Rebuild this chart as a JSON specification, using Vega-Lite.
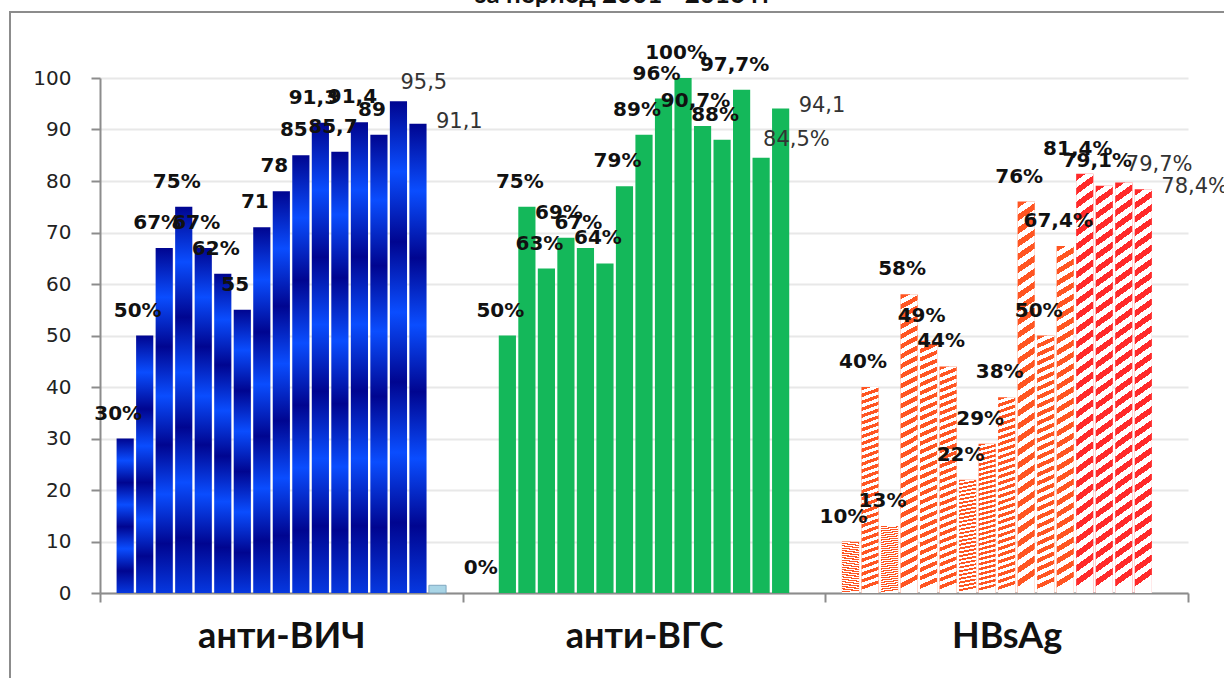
{
  "$schema": "https://vega.github.io/schema/vega-lite/v6.json",
  "width": 1268,
  "height": 700,
  "autosize": {"type": "none"},
  "padding": {"left": 10, "top": 12, "right": -54, "bottom": -34},
  "background": "white",
  "title": {"text": "за период 2001 - 2016 гг", "font": "Lato", "fontSize": 26, "fontWeight": "bold", "color": "#111111", "offset": 4, "dx": -20},
  "config": {"view": {"stroke": "#8C8C8C", "strokeWidth": 2}},
  "data": {"values": [
    {"g": "анти-ВИЧ", "n": 1, "v": 30, "label": "30%"},
    {"g": "анти-ВИЧ", "n": 2, "v": 50, "label": "50%"},
    {"g": "анти-ВИЧ", "n": 3, "v": 67, "label": "67%"},
    {"g": "анти-ВИЧ", "n": 4, "v": 75, "label": "75%"},
    {"g": "анти-ВИЧ", "n": 5, "v": 67, "label": "67%"},
    {"g": "анти-ВИЧ", "n": 6, "v": 62, "label": "62%"},
    {"g": "анти-ВИЧ", "n": 7, "v": 55, "label": "55"},
    {"g": "анти-ВИЧ", "n": 8, "v": 71, "label": "71"},
    {"g": "анти-ВИЧ", "n": 9, "v": 78, "label": "78"},
    {"g": "анти-ВИЧ", "n": 10, "v": 85, "label": "85"},
    {"g": "анти-ВИЧ", "n": 11, "v": 91.3, "label": "91,3"},
    {"g": "анти-ВИЧ", "n": 12, "v": 85.7, "label": "85,7"},
    {"g": "анти-ВИЧ", "n": 13, "v": 91.4, "label": "91,4"},
    {"g": "анти-ВИЧ", "n": 14, "v": 89, "label": "89"},
    {"g": "анти-ВИЧ", "n": 15, "v": 95.5, "label": "95,5"},
    {"g": "анти-ВИЧ", "n": 16, "v": 91.1, "label": "91,1"},
    {"g": "анти-ВИЧ", "n": 17, "v": 1.5, "label": ""},
    {"g": "анти-ВГС", "n": 1, "v": 0, "label": "0%"},
    {"g": "анти-ВГС", "n": 2, "v": 50, "label": "50%"},
    {"g": "анти-ВГС", "n": 3, "v": 75, "label": "75%"},
    {"g": "анти-ВГС", "n": 4, "v": 63, "label": "63%"},
    {"g": "анти-ВГС", "n": 5, "v": 69, "label": "69%"},
    {"g": "анти-ВГС", "n": 6, "v": 67, "label": "67%"},
    {"g": "анти-ВГС", "n": 7, "v": 64, "label": "64%"},
    {"g": "анти-ВГС", "n": 8, "v": 79, "label": "79%"},
    {"g": "анти-ВГС", "n": 9, "v": 89, "label": "89%"},
    {"g": "анти-ВГС", "n": 10, "v": 96, "label": "96%"},
    {"g": "анти-ВГС", "n": 11, "v": 100, "label": "100%"},
    {"g": "анти-ВГС", "n": 12, "v": 90.7, "label": "90,7%"},
    {"g": "анти-ВГС", "n": 13, "v": 88, "label": "88%"},
    {"g": "анти-ВГС", "n": 14, "v": 97.7, "label": "97,7%"},
    {"g": "анти-ВГС", "n": 15, "v": 84.5, "label": "84,5%"},
    {"g": "анти-ВГС", "n": 16, "v": 94.1, "label": "94,1"},
    {"g": "HBsAg", "n": 1, "v": 10, "label": "10%"},
    {"g": "HBsAg", "n": 2, "v": 40, "label": "40%"},
    {"g": "HBsAg", "n": 3, "v": 13, "label": "13%"},
    {"g": "HBsAg", "n": 4, "v": 58, "label": "58%"},
    {"g": "HBsAg", "n": 5, "v": 49, "label": "49%"},
    {"g": "HBsAg", "n": 6, "v": 44, "label": "44%"},
    {"g": "HBsAg", "n": 7, "v": 22, "label": "22%"},
    {"g": "HBsAg", "n": 8, "v": 29, "label": "29%"},
    {"g": "HBsAg", "n": 9, "v": 38, "label": "38%"},
    {"g": "HBsAg", "n": 10, "v": 76, "label": "76%"},
    {"g": "HBsAg", "n": 11, "v": 50, "label": "50%"},
    {"g": "HBsAg", "n": 12, "v": 67.4, "label": "67,4%"},
    {"g": "HBsAg", "n": 13, "v": 81.4, "label": "81,4%"},
    {"g": "HBsAg", "n": 14, "v": 79.1, "label": "79,1%"},
    {"g": "HBsAg", "n": 15, "v": 79.7, "label": "79,7%"},
    {"g": "HBsAg", "n": 16, "v": 78.4, "label": "78,4%"}
  ]},
  "encoding": {
    "x": {
      "field": "g", "type": "nominal", "title": null,
      "sort": ["анти-ВИЧ", "анти-ВГС", "HBsAg"],
      "scale": {"range": [90, 1178], "paddingInner": 0, "paddingOuter": 0},
      "axis": {"orient": "bottom", "offset": -119, "domainColor": "#8C8C8C", "domainWidth": 2, "tickColor": "#8C8C8C", "tickWidth": 2, "tickSize": 9, "tickBand": "extent", "labelFont": "Lato", "labelFontSize": 36, "labelFontWeight": "bold", "labelColor": "#111111", "labelPadding": 17, "labelAngle": 0, "grid": false}
    },
    "xOffset": {"field": "n", "type": "ordinal", "scale": {"domain": [1,2,3,4,5,6,7,8,9,10,11,12,13,14,15,16,17], "paddingInner": 0.12, "paddingOuter": 0.85}},
    "y": {
      "field": "v", "type": "quantitative", "title": null,
      "scale": {"domain": [0, 100], "range": [581, 66], "nice": false, "zero": true},
      "axis": {"offset": -90, "values": [0,10,20,30,40,50,60,70,80,90,100], "domainColor": "#8C8C8C", "domainWidth": 2, "tickColor": "#8C8C8C", "tickWidth": 2, "tickSize": 9, "labelFont": "DejaVu Sans", "labelFontSize": 20, "labelColor": "#222222", "labelPadding": 20, "grid": true, "gridColor": "#E8E8E8", "gridWidth": 2}
    }
  },
  "layer": [
    {
      "transform": [{"filter": "datum.g === 'анти-ВИЧ' && datum.n <= 16"}],
      "mark": {"type": "bar", "color": {"gradient": "linear", "x1": 0, "y1": 0, "x2": 0, "y2": 1, "stops": [
        {"offset": 0, "color": "#000590"},
        {"offset": 0.143, "color": "#0A4DFF"},
        {"offset": 0.286, "color": "#000590"},
        {"offset": 0.429, "color": "#0A4DFF"},
        {"offset": 0.571, "color": "#000590"},
        {"offset": 0.714, "color": "#0A4DFF"},
        {"offset": 0.857, "color": "#000590"},
        {"offset": 1, "color": "#0638E0"}
      ]}}
    },
    {
      "transform": [{"filter": "datum.g === 'анти-ВИЧ' && datum.n == 17"}],
      "mark": {"type": "bar", "color": "#A9D5E6", "stroke": "#7FA7C0", "strokeWidth": 1}
    },
    {
      "transform": [{"filter": "datum.g === 'анти-ВГС'"}],
      "mark": {"type": "bar", "color": "#14B85A"}
    },
    {
      "transform": [{"filter": "datum.g === 'HBsAg' && datum.n <= 12"}],
      "mark": {"type": "bar", "color": "#FF5522"}
    },
    {
      "transform": [{"filter": "datum.g === 'HBsAg' && datum.n >= 13"}],
      "mark": {"type": "bar", "color": "#FF2A2A"}
    },
    {
      "transform": [{"filter": "datum.g === 'HBsAg'"}],
      "mark": {"type": "bar", "color": {"gradient": "linear", "x1": 0, "y1": 0, "x2": 0.03, "y2": 1, "stops": [
        {"offset": 0, "color": "rgba(255,255,255,0)"}, {"offset": 0.0167, "color": "rgba(255,255,255,0)"}, {"offset": 0.0167, "color": "#ffffff"}, {"offset": 0.0333, "color": "#ffffff"},
        {"offset": 0.0333, "color": "rgba(255,255,255,0)"}, {"offset": 0.05, "color": "rgba(255,255,255,0)"}, {"offset": 0.05, "color": "#ffffff"}, {"offset": 0.0667, "color": "#ffffff"},
        {"offset": 0.0667, "color": "rgba(255,255,255,0)"}, {"offset": 0.0833, "color": "rgba(255,255,255,0)"}, {"offset": 0.0833, "color": "#ffffff"}, {"offset": 0.1, "color": "#ffffff"},
        {"offset": 0.1, "color": "rgba(255,255,255,0)"}, {"offset": 0.1167, "color": "rgba(255,255,255,0)"}, {"offset": 0.1167, "color": "#ffffff"}, {"offset": 0.1333, "color": "#ffffff"},
        {"offset": 0.1333, "color": "rgba(255,255,255,0)"}, {"offset": 0.15, "color": "rgba(255,255,255,0)"}, {"offset": 0.15, "color": "#ffffff"}, {"offset": 0.1667, "color": "#ffffff"},
        {"offset": 0.1667, "color": "rgba(255,255,255,0)"}, {"offset": 0.1833, "color": "rgba(255,255,255,0)"}, {"offset": 0.1833, "color": "#ffffff"}, {"offset": 0.2, "color": "#ffffff"},
        {"offset": 0.2, "color": "rgba(255,255,255,0)"}, {"offset": 0.2167, "color": "rgba(255,255,255,0)"}, {"offset": 0.2167, "color": "#ffffff"}, {"offset": 0.2333, "color": "#ffffff"},
        {"offset": 0.2333, "color": "rgba(255,255,255,0)"}, {"offset": 0.25, "color": "rgba(255,255,255,0)"}, {"offset": 0.25, "color": "#ffffff"}, {"offset": 0.2667, "color": "#ffffff"},
        {"offset": 0.2667, "color": "rgba(255,255,255,0)"}, {"offset": 0.2833, "color": "rgba(255,255,255,0)"}, {"offset": 0.2833, "color": "#ffffff"}, {"offset": 0.3, "color": "#ffffff"},
        {"offset": 0.3, "color": "rgba(255,255,255,0)"}, {"offset": 0.3167, "color": "rgba(255,255,255,0)"}, {"offset": 0.3167, "color": "#ffffff"}, {"offset": 0.3333, "color": "#ffffff"},
        {"offset": 0.3333, "color": "rgba(255,255,255,0)"}, {"offset": 0.35, "color": "rgba(255,255,255,0)"}, {"offset": 0.35, "color": "#ffffff"}, {"offset": 0.3667, "color": "#ffffff"},
        {"offset": 0.3667, "color": "rgba(255,255,255,0)"}, {"offset": 0.3833, "color": "rgba(255,255,255,0)"}, {"offset": 0.3833, "color": "#ffffff"}, {"offset": 0.4, "color": "#ffffff"},
        {"offset": 0.4, "color": "rgba(255,255,255,0)"}, {"offset": 0.4167, "color": "rgba(255,255,255,0)"}, {"offset": 0.4167, "color": "#ffffff"}, {"offset": 0.4333, "color": "#ffffff"},
        {"offset": 0.4333, "color": "rgba(255,255,255,0)"}, {"offset": 0.45, "color": "rgba(255,255,255,0)"}, {"offset": 0.45, "color": "#ffffff"}, {"offset": 0.4667, "color": "#ffffff"},
        {"offset": 0.4667, "color": "rgba(255,255,255,0)"}, {"offset": 0.4833, "color": "rgba(255,255,255,0)"}, {"offset": 0.4833, "color": "#ffffff"}, {"offset": 0.5, "color": "#ffffff"},
        {"offset": 0.5, "color": "rgba(255,255,255,0)"}, {"offset": 0.5167, "color": "rgba(255,255,255,0)"}, {"offset": 0.5167, "color": "#ffffff"}, {"offset": 0.5333, "color": "#ffffff"},
        {"offset": 0.5333, "color": "rgba(255,255,255,0)"}, {"offset": 0.55, "color": "rgba(255,255,255,0)"}, {"offset": 0.55, "color": "#ffffff"}, {"offset": 0.5667, "color": "#ffffff"},
        {"offset": 0.5667, "color": "rgba(255,255,255,0)"}, {"offset": 0.5833, "color": "rgba(255,255,255,0)"}, {"offset": 0.5833, "color": "#ffffff"}, {"offset": 0.6, "color": "#ffffff"},
        {"offset": 0.6, "color": "rgba(255,255,255,0)"}, {"offset": 0.6167, "color": "rgba(255,255,255,0)"}, {"offset": 0.6167, "color": "#ffffff"}, {"offset": 0.6333, "color": "#ffffff"},
        {"offset": 0.6333, "color": "rgba(255,255,255,0)"}, {"offset": 0.65, "color": "rgba(255,255,255,0)"}, {"offset": 0.65, "color": "#ffffff"}, {"offset": 0.6667, "color": "#ffffff"},
        {"offset": 0.6667, "color": "rgba(255,255,255,0)"}, {"offset": 0.6833, "color": "rgba(255,255,255,0)"}, {"offset": 0.6833, "color": "#ffffff"}, {"offset": 0.7, "color": "#ffffff"},
        {"offset": 0.7, "color": "rgba(255,255,255,0)"}, {"offset": 0.7167, "color": "rgba(255,255,255,0)"}, {"offset": 0.7167, "color": "#ffffff"}, {"offset": 0.7333, "color": "#ffffff"},
        {"offset": 0.7333, "color": "rgba(255,255,255,0)"}, {"offset": 0.75, "color": "rgba(255,255,255,0)"}, {"offset": 0.75, "color": "#ffffff"}, {"offset": 0.7667, "color": "#ffffff"},
        {"offset": 0.7667, "color": "rgba(255,255,255,0)"}, {"offset": 0.7833, "color": "rgba(255,255,255,0)"}, {"offset": 0.7833, "color": "#ffffff"}, {"offset": 0.8, "color": "#ffffff"},
        {"offset": 0.8, "color": "rgba(255,255,255,0)"}, {"offset": 0.8167, "color": "rgba(255,255,255,0)"}, {"offset": 0.8167, "color": "#ffffff"}, {"offset": 0.8333, "color": "#ffffff"},
        {"offset": 0.8333, "color": "rgba(255,255,255,0)"}, {"offset": 0.85, "color": "rgba(255,255,255,0)"}, {"offset": 0.85, "color": "#ffffff"}, {"offset": 0.8667, "color": "#ffffff"},
        {"offset": 0.8667, "color": "rgba(255,255,255,0)"}, {"offset": 0.8833, "color": "rgba(255,255,255,0)"}, {"offset": 0.8833, "color": "#ffffff"}, {"offset": 0.9, "color": "#ffffff"},
        {"offset": 0.9, "color": "rgba(255,255,255,0)"}, {"offset": 0.9167, "color": "rgba(255,255,255,0)"}, {"offset": 0.9167, "color": "#ffffff"}, {"offset": 0.9333, "color": "#ffffff"},
        {"offset": 0.9333, "color": "rgba(255,255,255,0)"}, {"offset": 0.95, "color": "rgba(255,255,255,0)"}, {"offset": 0.95, "color": "#ffffff"}, {"offset": 0.9667, "color": "#ffffff"},
        {"offset": 0.9667, "color": "rgba(255,255,255,0)"}, {"offset": 0.9833, "color": "rgba(255,255,255,0)"}, {"offset": 0.9833, "color": "#ffffff"}, {"offset": 1, "color": "#ffffff"}
      ]}}
    },
    {
      "transform": [{"filter": "datum.n <= 14 && datum.label !== ''"}],
      "mark": {"type": "text", "font": "DejaVu Sans", "fontSize": 20, "fontWeight": "bold", "color": "#111111", "align": "center", "baseline": "alphabetic", "dx": -7, "dy": -19},
      "encoding": {"text": {"field": "label"}}
    },
    {
      "transform": [{"filter": "datum.n == 15"}],
      "mark": {"type": "text", "font": "DejaVu Sans", "fontSize": 21, "fontWeight": "normal", "color": "#333333", "align": "left", "baseline": "alphabetic", "dx": 2, "dy": -12},
      "encoding": {"text": {"field": "label"}}
    },
    {
      "transform": [{"filter": "datum.n == 16"}],
      "mark": {"type": "text", "font": "DejaVu Sans", "fontSize": 21, "fontWeight": "normal", "color": "#333333", "align": "left", "baseline": "alphabetic", "dx": 18, "dy": 4},
      "encoding": {"text": {"field": "label"}}
    }
  ]
}
